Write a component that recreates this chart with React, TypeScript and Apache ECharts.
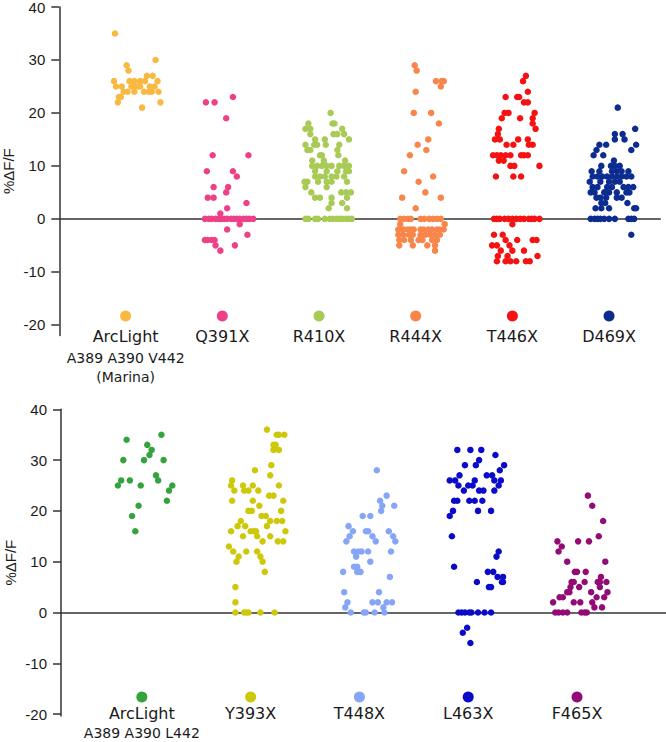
import React, { useEffect, useRef } from "react";
import * as echarts from "echarts";

// ---------- data ----------
const yTicks = [-20, -10, 0, 10, 20, 30, 40];

const topCategories = ["ArcLight", "Q391X", "R410X", "R444X", "T446X", "D469X"];
const topSubLabels: string[][] = [["A389 A390 V442", "(Marina)"], [], [], [], [], []];
const bottomCategories = ["ArcLight", "Y393X", "T448X", "L463X", "F465X"];
const bottomSubLabels: string[][] = [["A389 A390 L442"], [], [], [], []];

// each point: [horizontal jitter in 1/100 of a category slot, %ΔF/F]
const arcLightMarina: [number, number][] = [
  [-11, 35], [31, 30], [1, 29], [3, 28], [22, 27], [28, 27],
  [-12, 26], [4, 26], [9, 26], [15, 26], [20, 26], [33, 26],
  [-10, 25], [-4, 25], [6, 25], [9, 25], [12, 25], [15, 25], [25, 25], [30, 25],
  [-2, 24], [2, 24], [9, 24], [19, 24], [24, 24], [27, 24], [34, 24],
  [-7, 23], [-5, 23], [-8, 22], [36, 22], [17, 21],
];
const q391x: [number, number][] = [
  [-17, 22], [-8, 22], [11, 23], [4, 19], [-10, 12], [27, 12], [-16, 9], [11, 9], [15, 8],
  [-9, 6], [6, 6], [4, 5], [-15, 4], [-9, 4], [25, 3], [5, 2], [-2, 1],
  [-18, 0], [-14, 0], [-11, 0], [-7, 0], [-4, 0], [-1, 0], [2, 0], [5, 0], [9, 0], [12, 0],
  [15, 0], [18, 0], [22, 0], [25, 0], [28, 0], [32, 0],
  [18, -1], [5, -2], [26, -3], [-18, -4], [-15, -4], [-11, -4], [-8, -4], [-7, -5], [13, -5], [-2, -6],
];
const r410x: [number, number][] = [
  [12, 20], [-11, 18], [14, 18], [16, 18], [-14, 17], [-9, 17], [24, 17],
  [-9, 16], [15, 16], [19, 16], [26, 16], [-4, 15], [6, 15], [31, 15],
  [-14, 14], [-5, 14], [-2, 14], [7, 14], [21, 14], [-12, 13], [-9, 13], [19, 13],
  [1, 12], [3, 12], [20, 12], [-7, 11], [5, 11], [27, 11],
  [-7, 10], [-2, 10], [3, 10], [8, 10], [13, 10], [21, 10], [26, 10], [31, 10],
  [-4, 9], [8, 9], [19, 9], [28, 9], [31, 9],
  [-4, 8], [1, 8], [6, 8], [13, 8], [18, 8], [26, 8],
  [-15, 7], [-12, 7], [-1, 7], [8, 7], [13, 7], [29, 7], [-14, 6], [8, 6],
  [-8, 5], [23, 5], [28, 5], [33, 5], [-4, 4], [1, 4], [13, 4], [29, 4],
  [13, 3], [24, 3], [10, 2], [29, 2],
  [-14, 0], [-11, 0], [-4, 0], [-1, 0], [6, 0], [11, 0], [14, 0], [18, 0], [21, 0], [24, 0], [28, 0], [31, 0], [34, 0],
];
const r444x: [number, number][] = [
  [-1, 29], [1, 28], [21, 26], [27, 26], [29, 26], [26, 25], [0, 24], [-2, 20], [16, 20], [24, 18],
  [13, 15], [2, 14], [11, 13], [-6, 12], [-12, 9], [18, 8], [3, 7], [10, 5], [-14, 4], [26, 4], [0, 2],
  [-16, 0], [-12, 0], [-8, 0], [-5, 0], [5, 0], [9, 0], [14, 0], [18, 0], [22, 0], [26, 0],
  [-16, -1], [30, -1],
  [-18, -2], [-15, -2], [-12, -2], [-8, -2], [-5, -2], [-2, -2], [5, -2], [8, -2], [13, -2], [17, -2], [22, -2], [25, -2], [29, -2],
  [-18, -3], [-13, -3], [-7, -3], [-3, -3], [5, -3], [10, -3], [15, -3], [20, -3], [25, -3],
  [-17, -4], [-12, -4], [-5, -4], [3, -4], [7, -4], [17, -4], [22, -4],
  [-17, -5], [-3, -5], [12, -5], [20, -5], [20, -6],
];
const t446x: [number, number][] = [
  [14, 27], [11, 26], [16, 24], [-7, 23], [5, 23], [7, 23], [12, 22], [16, 22],
  [-8, 20], [-4, 20], [23, 20], [-11, 19], [8, 19], [21, 19], [21, 18], [-14, 17], [24, 17],
  [-15, 16], [-18, 15], [-13, 15], [6, 15], [16, 15], [-6, 14], [1, 14], [17, 14], [21, 14],
  [-20, 12], [-16, 12], [-12, 12], [-7, 12], [-2, 12], [9, 12], [12, 12], [16, 12],
  [-14, 11], [-9, 11], [-2, 10], [2, 10], [28, 10], [-17, 8], [1, 8], [9, 8],
  [-19, 0], [-16, 0], [-13, 0], [-8, 0], [-4, 0], [0, 0], [4, 0], [8, 0], [12, 0], [17, 0], [20, 0], [23, 0], [28, 0],
  [0, -1], [-19, -3], [-10, -3], [-7, -4], [5, -4], [21, -4], [25, -4],
  [-21, -5], [-16, -5], [-3, -5], [-12, -6], [0, -6], [12, -6],
  [-15, -7], [-5, -7], [26, -7], [-16, -8], [-7, -8], [-2, -8], [4, -8], [14, -8], [18, -8],
];
const d469x: [number, number][] = [
  [9, 21], [27, 17], [6, 16], [14, 16], [6, 15], [16, 15], [-10, 14], [-3, 14], [28, 14],
  [-13, 13], [23, 13], [-16, 12], [-6, 12], [5, 11],
  [-8, 10], [2, 10], [6, 10], [11, 10],
  [-18, 9], [-10, 9], [3, 9], [8, 9], [13, 9], [20, 9],
  [-17, 8], [-12, 8], [-7, 8], [-2, 8], [3, 8], [8, 8], [13, 8], [18, 8], [23, 8],
  [-20, 7], [-9, 7], [0, 7], [6, 7], [11, 7],
  [-17, 6], [-12, 6], [-2, 6], [3, 6], [15, 6], [20, 6], [25, 6],
  [-19, 5], [-15, 5], [-5, 5], [0, 5], [8, 5], [18, 5], [21, 5],
  [-13, 4], [-9, 4], [-3, 4], [8, 4], [13, 4], [-8, 3], [-4, 3], [19, 3],
  [-14, 2], [-8, 2], [0, 2], [26, 2], [28, 2],
  [-19, 0], [-15, 0], [-12, 0], [-9, 0], [-5, 0], [0, 0], [6, 0], [20, 0], [23, 0], [26, 0],
  [23, -3],
];

const arcLightL442: [number, number][] = [
  [-14, 34], [18, 35], [-17, 30], [5, 33], [9, 32], [7, 31], [2, 30], [20, 30], [13, 27],
  [-19, 26], [-11, 26], [15, 26], [-22, 25], [-1, 25], [28, 25], [25, 24], [23, 22], [-3, 21], [-9, 19], [-6, 16],
];
const y393x: [number, number][] = [
  [15, 36], [24, 35], [26, 35], [31, 35], [21, 33], [23, 33], [21, 32], [26, 32], [19, 29], [18, 27], [4, 28],
  [-17, 26], [-18, 25], [-7, 25], [2, 25], [26, 25], [17, 23], [21, 23],
  [-15, 24], [-6, 24], [-2, 24], [7, 24], [-17, 22], [2, 22], [30, 22],
  [-2, 20], [1, 20], [28, 20], [8, 21], [10, 19], [14, 19], [-9, 18], [18, 18], [24, 18], [29, 18],
  [-12, 17], [-5, 17], [15, 17], [-18, 16], [0, 16], [3, 16], [5, 16], [32, 16],
  [-7, 15], [6, 15], [18, 15], [11, 14], [25, 14], [30, 14], [-20, 13],
  [-16, 12], [-4, 12], [6, 12], [-11, 11], [9, 11], [-13, 10], [11, 10], [13, 8], [-14, 5], [-14, 2],
  [-14, 0], [-6, 0], [-4, 0], [-2, 0], [9, 0], [22, 0],
];
const t448x: [number, number][] = [
  [16, 28], [25, 23], [19, 22], [21, 21], [32, 21], [20, 20], [3, 19], [10, 19], [-10, 17],
  [-6, 16], [6, 16], [8, 16], [27, 16], [-9, 15], [12, 15], [31, 15], [-12, 14], [15, 14], [33, 14],
  [-5, 12], [-1, 12], [2, 12], [8, 12], [29, 12], [-3, 11], [10, 10], [-5, 9], [-2, 9],
  [-15, 8], [-2, 8], [1, 8], [28, 7], [-14, 4], [18, 4],
  [-11, 2], [12, 2], [17, 2], [25, 2], [30, 2], [-13, 1], [22, 1],
  [-8, 0], [4, 0], [6, 0], [14, 0], [23, 0],
];
const l463x: [number, number][] = [
  [-10, 32], [2, 32], [12, 32], [25, 31], [10, 30], [-3, 29], [7, 29], [33, 29], [29, 28],
  [-8, 27], [17, 27], [22, 27], [-17, 26], [-12, 26], [6, 26], [24, 26], [30, 26],
  [-9, 25], [0, 25], [4, 25], [28, 25], [-4, 24], [10, 24], [14, 24], [24, 24],
  [-13, 22], [-10, 22], [1, 22], [6, 22], [13, 22], [-14, 20], [9, 20], [21, 20], [-17, 19],
  [-15, 15], [28, 12], [26, 11], [-13, 9], [18, 8], [23, 8], [27, 7], [32, 7], [8, 6], [31, 6], [32, 6],
  [19, 5], [21, 5],
  [-9, 0], [-6, 0], [-3, 0], [1, 0], [3, 0], [9, 0], [15, 0], [21, 0],
  [-1, -3], [-5, -4], [2, -6],
];
const f465x: [number, number][] = [
  [10, 23], [14, 21], [24, 18], [20, 15], [-18, 14], [1, 14], [11, 14], [-14, 13], [-17, 12],
  [-9, 10], [26, 10], [-2, 8], [0, 8], [8, 8], [22, 7],
  [-5, 6], [-3, 6], [7, 6], [19, 6], [21, 6], [27, 6], [-6, 5], [2, 5], [21, 5],
  [-9, 4], [-7, 4], [13, 4], [28, 4], [-16, 3], [-13, 3], [18, 3], [25, 3],
  [-22, 2], [-3, 2], [3, 2], [14, 2], [16, 1], [23, 1],
  [-20, 0], [-17, 0], [-13, 0], [-9, 0], [4, 0], [7, 0], [9, 0],
];

const topGroups = [arcLightMarina, q391x, r410x, r444x, t446x, d469x];
const bottomGroups = [arcLightL442, y393x, t448x, l463x, f465x];

// ---------- styles ----------
const topColors = ["#F9B940", "#EE4087", "#A8CB55", "#F8854A", "#F51212", "#0D2C8F"];
const bottomColors = ["#33A43D", "#CDC90A", "#86A5F6", "#0A0AC8", "#930B76"];

const AXIS_COLOR = "#333";
const TEXT_COLOR = "#1a1a1a";
const TICK_FONT = "'Liberation Sans', Arial, sans-serif";
const LABEL_FONT = "'DejaVu Sans', sans-serif";

export default function App() {
  const ref = useRef<HTMLDivElement>(null);

  useEffect(() => {
    if (!ref.current) return;
    const chart = echarts.init(ref.current, null, { renderer: "svg" });

    const yAxisCommon = (gridIndex: number, min: number) => ({
      gridIndex,
      type: "value",
      min,
      max: 40,
      position: "left",
      axisLine: { show: true, onZero: false, lineStyle: { color: AXIS_COLOR, width: 1.5 } },
      axisTick: { show: true, length: 8, customValues: yTicks, lineStyle: { color: AXIS_COLOR, width: 1.5 } },
      axisLabel: { customValues: yTicks, margin: 14, fontSize: 15, lineHeight: 14, fontFamily: TICK_FONT, color: TEXT_COLOR },
      splitLine: { show: false },
      name: "%ΔF/F",
      nameLocation: "middle",
      nameRotate: 90,
      nameGap: 43,
      nameMoveOverlap: false,
      nameTextStyle: { fontSize: 15, lineHeight: 15, fontFamily: TICK_FONT, color: TEXT_COLOR },
    });

    const xAxisCommon = (gridIndex: number, min: number, max: number) => ({
      gridIndex,
      type: "value",
      min,
      max,
      axisLine: { show: true, onZero: true, lineStyle: { color: AXIS_COLOR, width: 1.5 } },
      axisTick: { show: false },
      axisLabel: { show: false },
      splitLine: { show: false },
    });

    const dotSeries = (groups: [number, number][][], colors: string[], axisIndex: number) =>
      groups.map((pts, i) => ({
        type: "scatter",
        xAxisIndex: axisIndex,
        yAxisIndex: axisIndex,
        symbol: "circle",
        symbolSize: 6.5,
        itemStyle: { color: colors[i], opacity: 1 },
        data: pts.map(([j, v]) => [i + j / 100, v]),
        z: 3,
      }));

    const keySeries = (
      cats: string[],
      subs: string[][],
      colors: string[],
      axisIndex: number,
      keyY: number,
      dist: number,
      nameLH: number,
      subLH: number
    ) => ({
      type: "scatter",
      xAxisIndex: axisIndex,
      yAxisIndex: axisIndex,
      symbol: "circle",
      symbolSize: 11,
      clip: false,
      itemStyle: { opacity: 1 },
      data: cats.map((c, i) => ({
        value: [i, keyY],
        itemStyle: { color: colors[i], opacity: 1 },
        label: {
          show: true,
          position: "bottom",
          distance: dist,
          color: TEXT_COLOR,
          opacity: 1,
          formatter: [`{n|${c}}`, ...subs[i].map((s) => `{s|${s}}`)].join("\n"),
          rich: {
            n: { fontSize: 16, fontFamily: LABEL_FONT, color: TEXT_COLOR, lineHeight: nameLH, align: "center" },
            s: { fontSize: 14, fontFamily: LABEL_FONT, color: TEXT_COLOR, lineHeight: subLH, align: "center" },
          },
        },
      })),
      z: 3,
    });

    chart.setOption({
      animation: false,
      backgroundColor: "#ffffff",
      grid: [
        { left: 59.3, top: 7, width: 601, height: 328.4, containLabel: false, outerBoundsMode: "none" },
        { left: 61, top: 409.3, width: 605, height: 306.8, containLabel: false, outerBoundsMode: "none" },
      ],
      xAxis: [xAxisCommon(0, -0.686, 5.53), xAxisCommon(1, -0.743, 4.818)],
      yAxis: [yAxisCommon(0, -22), yAxisCommon(1, -20.4)],
      series: [
        ...dotSeries(topGroups, topColors, 0),
        ...dotSeries(bottomGroups, bottomColors, 1),
        keySeries(topCategories, topSubLabels, topColors, 0, -18.35, 3, 24, 19),
        keySeries(bottomCategories, bottomSubLabels, bottomColors, 1, -16.63, 0.5, 22, 16),
      ],
    });

    return () => chart.dispose();
  }, []);

  return (
    <div
      ref={ref}
      style={{ position: "absolute", left: 0, top: 0, width: 666, height: 742, background: "#fff" }}
    />
  );
}
